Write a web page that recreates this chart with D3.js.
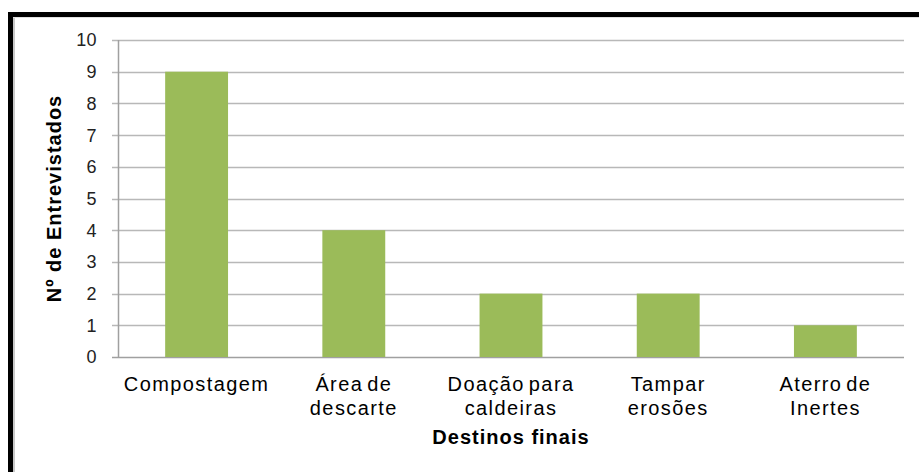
<!DOCTYPE html>
<html>
  <head>
    <meta charset="utf-8">
    <title>Destinos finais</title>
    <script src="https://cdn.jsdelivr.net/npm/d3@7"></script>
    <style>
      body { margin: 0; background: #fff; }
      text { font-family: "Liberation Sans", Arial, sans-serif; fill: #000; }
    </style>
  </head>
  <body>
    <script>
      var categories = [["Compostagem"], ["Área de", "descarte"], ["Doação para", "caldeiras"],
                        ["Tampar", "erosões"], ["Aterro de", "Inertes"]];
      var values = [9, 4, 2, 2, 1];
      var yTicks = [0, 1, 2, 3, 4, 5, 6, 7, 8, 9, 10];

      var w = 919, h = 472;
      var plotLeft = 118, plotRight = 904, plotTop = 40, plotBottom = 357;

      var svg = d3.select("body").append("svg")
                  .attr("width", w).attr("height", h);

      // frame (cut off on the right and bottom like the original)
      svg.append("rect").attr("x", 10.5).attr("y", 14.5)
         .attr("width", 940).attr("height", 500)
         .attr("fill", "#fff").attr("stroke", "#000").attr("stroke-width", 5);
      svg.append("line").attr("x1", 14).attr("x2", 14).attr("y1", 17).attr("y2", h)
         .attr("stroke", "#c8c8c8").attr("stroke-width", 2);
      svg.append("line").attr("x1", 13).attr("x2", w).attr("y1", 17.5).attr("y2", 17.5)
         .attr("stroke", "#e0e0e0").attr("stroke-width", 1);

      var x = d3.scaleBand().domain(d3.range(values.length))
                .range([plotLeft, plotRight]).paddingInner(0.6).paddingOuter(0.3);
      var y = d3.scaleLinear().domain([0, 10]).range([plotBottom, plotTop]);

      // gridlines
      svg.append("g").selectAll("line").data(yTicks).enter().append("line")
         .attr("x1", plotLeft - 6).attr("x2", plotRight)
         .attr("y1", function(d) { return Math.round(y(d)) + 0.5; })
         .attr("y2", function(d) { return Math.round(y(d)) + 0.5; })
         .attr("stroke", function(d) { return d == 0 ? "#a0a0a0" : "#b8b8b8"; })
         .attr("stroke-width", 1.5);

      // bars
      svg.append("g").selectAll("rect").data(values).enter().append("rect")
         .attr("x", function(d, i) { return x(i); })
         .attr("width", x.bandwidth())
         .attr("y", function(d) { return y(d); })
         .attr("height", function(d) { return y(0) - y(d); })
         .attr("fill", "#9bbb59");

      // y axis line
      svg.append("line").attr("x1", plotLeft + 0.5).attr("x2", plotLeft + 0.5)
         .attr("y1", plotTop).attr("y2", plotBottom)
         .attr("stroke", "#a0a0a0").attr("stroke-width", 1.5);

      // y tick labels
      svg.append("g").selectAll("text").data(yTicks).enter().append("text")
         .attr("x", 97).attr("y", function(d) { return y(d); })
         .attr("dy", "0.36em").attr("text-anchor", "end")
         .style("font-size", "18px").style("letter-spacing", "0.4px")
         .style("fill", "#222")
         .text(function(d) { return d; });

      // category labels
      var cat = svg.append("g").selectAll("text").data(categories).enter().append("text")
         .attr("text-anchor", "middle")
         .style("font-size", "20px").style("letter-spacing", "1.4px")
         .style("word-spacing", "-3px")
         .attr("transform", function(d, i) {
           return "translate(" + (x(i) + x.bandwidth() / 2) + ",391)";
         });
      cat.selectAll("tspan").data(function(d) { return d; }).enter().append("tspan")
         .attr("x", 0).attr("y", function(d, i) { return i * 24; })
         .text(function(d) { return d; });

      // axis titles
      svg.append("text").attr("x", (plotLeft + plotRight) / 2).attr("y", 444)
         .attr("text-anchor", "middle").style("font-size", "20px")
         .style("font-weight", "bold").style("letter-spacing", "1px")
         .text("Destinos finais");
      svg.append("text")
         .attr("transform", "translate(61," + (plotTop + plotBottom) / 2 + ") rotate(-90)")
         .attr("text-anchor", "middle").style("font-size", "20px")
         .style("font-weight", "bold").style("letter-spacing", "1px")
         .text("Nº de Entrevistados");
    </script>
  </body>
</html>
